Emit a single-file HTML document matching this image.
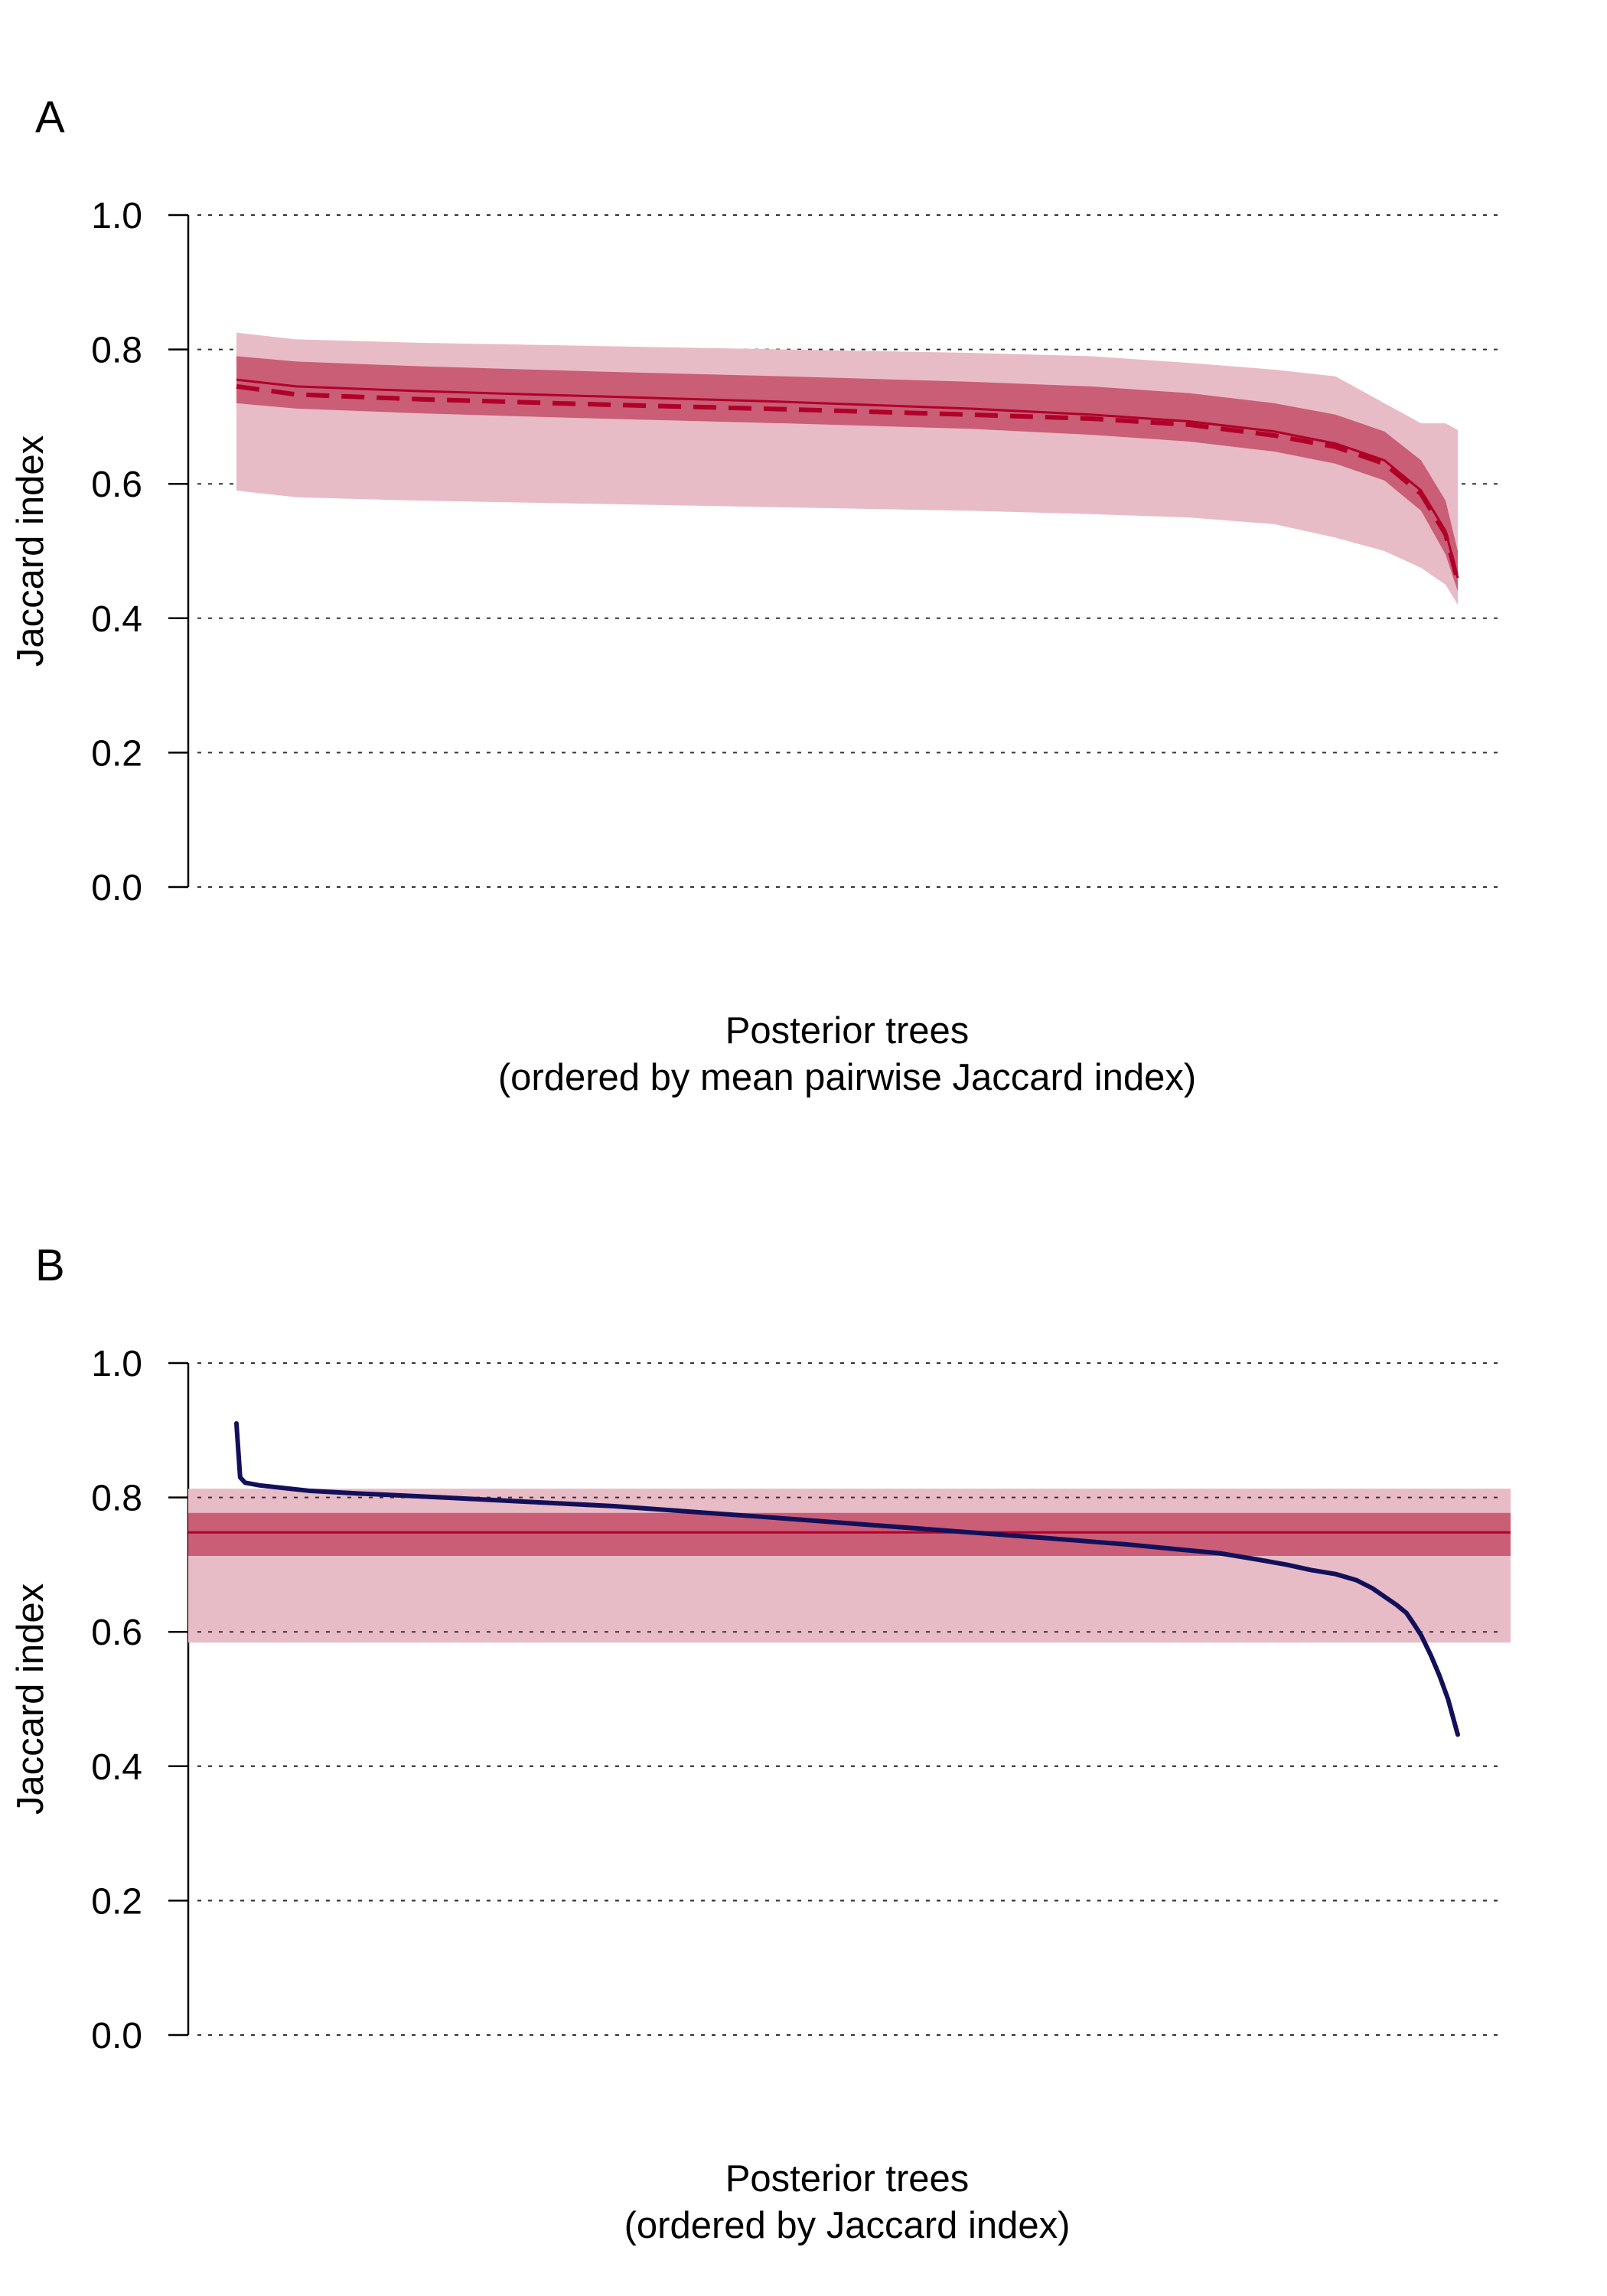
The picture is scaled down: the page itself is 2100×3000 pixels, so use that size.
<!DOCTYPE html>
<html><head><meta charset="utf-8">
<style>
html,body{margin:0;padding:0;background:#fff;}
svg{display:block;font-family:"Liberation Sans",Arial,sans-serif;}
</style></head>
<body>
<svg id="fig" width="2100" height="3000" viewBox="0 0 2100 3000" xmlns="http://www.w3.org/2000/svg"></svg>
<script>
// ---- Panel A data (tree rank -> Jaccard) ----
const ranksA = [1, 50, 150, 300, 450, 600, 700, 780, 850, 900, 940, 970, 990, 1000];
const meanA  = [0.755, 0.745, 0.738, 0.730, 0.722, 0.712, 0.703, 0.693, 0.678, 0.660, 0.635, 0.590, 0.530, 0.460];
const medianA= [0.745, 0.733, 0.726, 0.718, 0.711, 0.703, 0.697, 0.688, 0.672, 0.655, 0.630, 0.585, 0.525, 0.455];
const darkHiA= [0.790, 0.782, 0.775, 0.767, 0.760, 0.752, 0.745, 0.735, 0.720, 0.703, 0.678, 0.635, 0.575, 0.500];
const darkLoA= [0.720, 0.712, 0.705, 0.697, 0.690, 0.682, 0.673, 0.663, 0.648, 0.630, 0.605, 0.560, 0.495, 0.440];
const lightHiA=[0.825, 0.815, 0.810, 0.805, 0.800, 0.795, 0.790, 0.780, 0.770, 0.760, 0.720, 0.690, 0.690, 0.680];
const lightLoA=[0.590, 0.580, 0.575, 0.570, 0.565, 0.560, 0.555, 0.550, 0.540, 0.520, 0.500, 0.475, 0.450, 0.420];
// ---- Panel B data ----
const ranksB = [1, 4, 8, 20, 60, 100, 170, 310, 440, 550, 660, 730, 770, 805, 835, 860, 880, 900, 917, 930, 942, 950, 958, 964, 970, 978, 985, 992, 1000];
const valuesB= [0.910, 0.830, 0.822, 0.818, 0.810, 0.806, 0.800, 0.787, 0.770, 0.755, 0.740, 0.730, 0.723, 0.717, 0.708, 0.700, 0.692, 0.686, 0.677, 0.665, 0.650, 0.640, 0.628, 0.612, 0.595, 0.565, 0.535, 0.500, 0.447];
const bandLightB = [0.584, 0.813];
const bandDarkB  = [0.713, 0.777];
const meanB = 0.748;
const yTicks = [0.0, 0.2, 0.4, 0.6, 0.8, 1.0];
const tickLabels = ["0.0","0.2","0.4","0.6","0.8","1.0"];

const NS="http://www.w3.org/2000/svg";
const svg=document.getElementById('fig');
function el(tag,attrs,parent,text){const e=document.createElementNS(NS,tag);for(const k in attrs)e.setAttribute(k,attrs[k]);if(text!==undefined)e.textContent=text;(parent||svg).appendChild(e);return e;}
const xScale=r=>309+(r-1)/(999)*(1905-309);

function panel(top,label,xt2,id){
  const yScale=v=>top+(1-v)*878;
  const g=el('g',{});
  
  
  const L=el('text',{x:46,y:top-108,'font-size':58},g,label);
  
  
  yTicks.forEach((t,i)=>{
    const gl=el('line',{x1:258,x2:1966,y1:yScale(t),y2:yScale(t),stroke:'#333','stroke-width':2,'stroke-dasharray':'5 9'},g);
    
    
    const tk=el('line',{x1:220,x2:246,y1:yScale(t),y2:yScale(t),stroke:'#000','stroke-width':2.5},g);
    
    
    const tl=el('text',{x:186,y:yScale(t)+17,'font-size':48,'text-anchor':'end'},g,tickLabels[i]);
    
    
  });
  const ax=el('line',{x1:246,x2:246,y1:yScale(1),y2:yScale(0),stroke:'#000','stroke-width':2.5},g);
  
  
  const yt=el('text',{x:0,y:0,'font-size':49,'text-anchor':'middle',transform:`translate(56,${(yScale(1)+yScale(0))/2}) rotate(-90)`},g,'Jaccard index');
  
  
  const x1=el('text',{x:1107,y:yScale(0)+204,'font-size':49,'text-anchor':'middle'},g,'Posterior trees');
  
  
  const x2=el('text',{x:1107,y:yScale(0)+265,'font-size':49,'text-anchor':'middle'},g,xt2);
  
  
  return {g,yScale};
}
function bandPath(xs,hi,lo,ys){
  let d='';
  xs.forEach((r,i)=>{d+=(i?'L':'M')+xScale(r)+','+ys(hi[i]);});
  for(let i=xs.length-1;i>=0;i--)d+='L'+xScale(xs[i])+','+ys(lo[i]);
  return d+'Z';
}
function linePath(xs,vs,ys){return xs.map((r,i)=>(i?'L':'M')+xScale(r)+','+ys(vs[i])).join('');}

// Panel A
const A=panel(281,'A','(ordered by mean pairwise Jaccard index)','a');
const plotA=el('g',{},A.g);
const lb=el('path',{d:bandPath(ranksA,lightHiA,lightLoA,A.yScale),fill:'#e8bcc6'},plotA);


const db=el('path',{d:bandPath(ranksA,darkHiA,darkLoA,A.yScale),fill:'#c95e76'},plotA);


const ml=el('path',{d:linePath(ranksA,meanA,A.yScale),fill:'none',stroke:'#b0002a','stroke-width':3},plotA);


const md=el('path',{d:linePath(ranksA,medianA,A.yScale),fill:'none',stroke:'#b0002a','stroke-width':6,'stroke-dasharray':'30 16'},plotA);



// Panel B
const B=panel(1781,'B','(ordered by Jaccard index)','b');
const plotB=el('g',{},B.g);
const lbB=el('rect',{x:246,width:1974-246,y:B.yScale(bandLightB[1]),height:B.yScale(bandLightB[0])-B.yScale(bandLightB[1]),fill:'#e8bcc6'},plotB);


const dbB=el('rect',{x:246,width:1974-246,y:B.yScale(bandDarkB[1]),height:B.yScale(bandDarkB[0])-B.yScale(bandDarkB[1]),fill:'#c95e76'},plotB);


const mB=el('line',{x1:246,x2:1974,y1:B.yScale(meanB),y2:B.yScale(meanB),stroke:'#b0002a','stroke-width':3},plotB);


yTicks.forEach(t=>{
  const gl=el('line',{x1:258,x2:1966,y1:B.yScale(t),y2:B.yScale(t),stroke:'#333','stroke-width':2,'stroke-dasharray':'5 9'},plotB);
  
  
});
const lB=el('path',{d:linePath(ranksB,valuesB,B.yScale),fill:'none',stroke:'#13105a','stroke-width':6,'stroke-linejoin':'round','stroke-linecap':'round'},plotB);


</script>
</body></html>
